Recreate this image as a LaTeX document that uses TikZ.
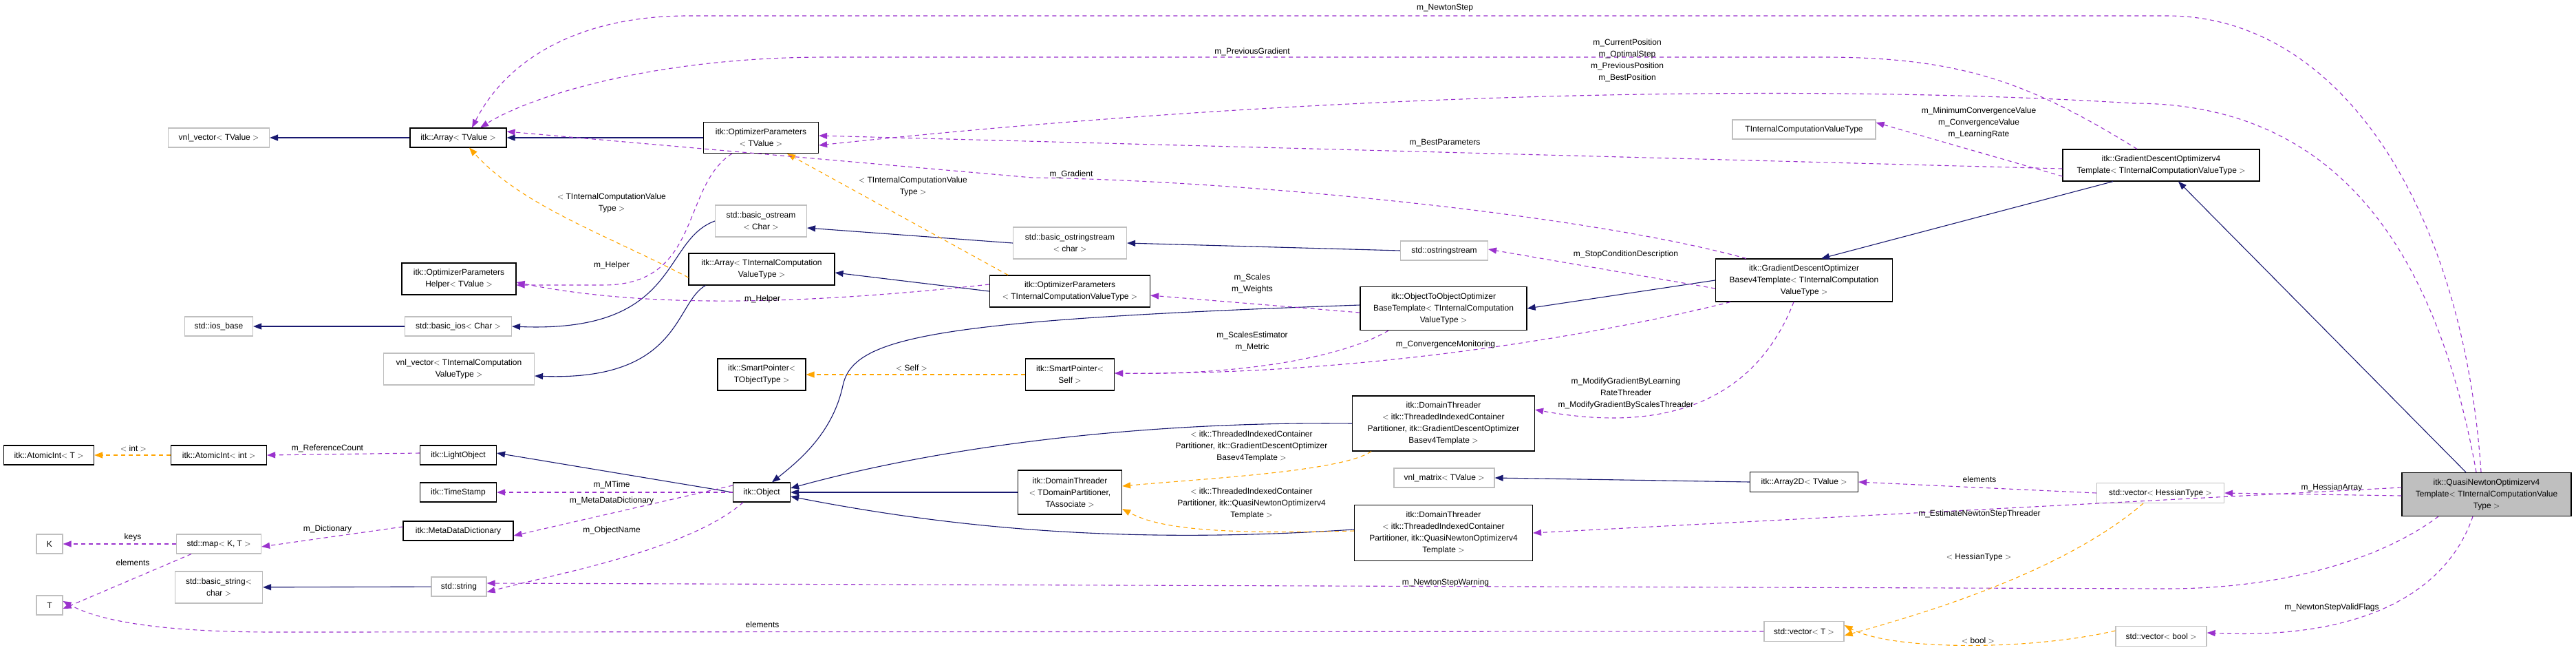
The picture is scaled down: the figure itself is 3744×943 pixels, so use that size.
\documentclass[tikz,border=0pt]{standalone}
\usepackage{fontspec}
\setmainfont{Liberation Sans}
\usetikzlibrary{arrows.meta}
\definecolor{inhcol}{HTML}{191970}
\definecolor{usecol}{HTML}{9A32CD}
\definecolor{tplcol}{HTML}{FFA500}
\definecolor{extcol}{HTML}{BFBFBF}
\tikzset{
  cls/.style={rectangle, draw=black, line width=1.2pt, inner sep=0pt, align=center, font=\fontsize{12}{17}\selectfont},
  ext/.style={cls, draw=extcol},
  inh/.style={draw=inhcol, line width=1.1pt, -{Triangle[length=12pt,width=9pt]}},
  use/.style={draw=usecol, line width=1.1pt, dash pattern=on 6pt off 5pt, -{Triangle[length=12pt,width=9pt]}},
  tpl/.style={draw=tplcol, line width=1.1pt, dash pattern=on 6pt off 5pt, -{Triangle[length=12pt,width=9pt]}},
  lbl/.style={font=\fontsize{12}{17}\selectfont, align=center, inner sep=0pt}
}
\begin{document}
\begin{tikzpicture}[x=1pt, y=-1pt]
\useasboundingbox (0,0) rectangle (3744,943);

% classes on the left
\node[ext, minimum width=147, minimum height=28] (vnlT) at (318,200) {vnl\_vector$<$ TValue $>$};
\node[cls, minimum width=140, minimum height=28] (arrT) at (666,200) {itk::Array$<$ TValue $>$};
\node[cls, minimum width=167, minimum height=45] (optP) at (1106,200) {itk::OptimizerParameters\\$<$ TValue $>$};
\node[ext, minimum width=133, minimum height=46] (bostream) at (1106,321) {std::basic\_ostream\\$<$ Char $>$};
\node[cls, minimum width=212, minimum height=46] (arrTIC) at (1107,391) {itk::Array$<$ TInternalComputation\\ValueType $>$};
\node[cls, minimum width=166, minimum height=46] (helper) at (667,405) {itk::OptimizerParameters\\Helper$<$ TValue $>$};
\node[ext, minimum width=99, minimum height=28] (iosbase) at (318,474) {std::ios\_base};
\node[ext, minimum width=155, minimum height=28] (bios) at (666,474) {std::basic\_ios$<$ Char $>$};
\node[ext, minimum width=219, minimum height=46] (vnlTIC) at (667,536) {vnl\_vector$<$ TInternalComputation\\ValueType $>$};
\node[cls, minimum width=128, minimum height=46] (spTO) at (1107,544) {itk::SmartPointer$<$\\TObjectType $>$};
\node[cls, minimum width=131, minimum height=28] (aiT) at (71,661) {itk::AtomicInt$<$ T $>$};
\node[cls, minimum width=139, minimum height=28] (aiInt) at (318,661) {itk::AtomicInt$<$ int $>$};
\node[cls, minimum width=111, minimum height=28] (light) at (666,661) {itk::LightObject};
\node[cls, minimum width=111, minimum height=28] (tstamp) at (666,715) {itk::TimeStamp};
\node[cls, minimum width=83, minimum height=28] (object) at (1107,715) {itk::Object};
\node[cls, minimum width=160, minimum height=28] (mdd) at (666,771) {itk::MetaDataDictionary};
\node[ext, minimum width=38, minimum height=28] (K) at (72,790) {K};
\node[ext, minimum width=123, minimum height=28] (map) at (318,790) {std::map$<$ K, T $>$};
\node[ext, minimum width=38, minimum height=28] (T) at (72,879) {T};
\node[ext, minimum width=127, minimum height=46] (bstring) at (318,853) {std::basic\_string$<$\\char $>$};
\node[ext, minimum width=80, minimum height=28] (string) at (667,852) {std::string};

% classes in the middle
\node[ext, minimum width=165, minimum height=46] (bostrs) at (1555,353) {std::basic\_ostringstream\\$<$ char $>$};
\node[ext, minimum width=127, minimum height=28] (ostrs) at (2099,364) {std::ostringstream};
\node[cls, minimum width=233, minimum height=46] (optTIC) at (1555,423) {itk::OptimizerParameters\\$<$ TInternalComputationValueType $>$};
\node[cls, minimum width=242, minimum height=63] (o2o) at (2098,448) {itk::ObjectToObjectOptimizer\\BaseTemplate$<$ TInternalComputation\\ValueType $>$};
\node[cls, minimum width=129, minimum height=46] (spSelf) at (1555,544) {itk::SmartPointer$<$\\Self $>$};
\node[cls, minimum width=265, minimum height=80] (dtGD) at (2098,615) {itk::DomainThreader\\$<$ itk::ThreadedIndexedContainer\\Partitioner, itk::GradientDescentOptimizer\\Basev4Template $>$};
\node[cls, minimum width=151, minimum height=64] (dtTDP) at (1555,715) {itk::DomainThreader\\$<$ TDomainPartitioner,\\TAssociate $>$};
\node[ext, minimum width=146, minimum height=28] (vnlM) at (2099,694) {vnl\_matrix$<$ TValue $>$};
\node[cls, minimum width=259, minimum height=81] (dtQN) at (2098,774) {itk::DomainThreader\\$<$ itk::ThreadedIndexedContainer\\Partitioner, itk::QuasiNewtonOptimizerv4\\Template $>$};

% classes on the right
\node[cls, minimum width=257, minimum height=62] (gdb) at (2622,407) {itk::GradientDescentOptimizer\\Basev4Template$<$ TInternalComputation\\ValueType $>$};
\node[ext, minimum width=208, minimum height=28] (ticvt) at (2622,188) {TInternalComputationValueType};
\node[cls, minimum width=286, minimum height=46] (gdv4) at (3141,240) {itk::GradientDescentOptimizerv4\\Template$<$ TInternalComputationValueType $>$};
\node[cls, minimum width=157, minimum height=29] (arr2d) at (2622,700) {itk::Array2D$<$ TValue $>$};
\node[ext, minimum width=185, minimum height=29] (vH) at (3140,716) {std::vector$<$ HessianType $>$};
\node[cls, fill=extcol, minimum width=246, minimum height=63] (qn) at (3614,718) {itk::QuasiNewtonOptimizerv4\\Template$<$ TInternalComputationValue\\Type $>$};
\node[ext, minimum width=116, minimum height=29] (vT) at (2622,917) {std::vector$<$ T $>$};
\node[ext, minimum width=132, minimum height=29] (vBool) at (3141,924) {std::vector$<$ bool $>$};

% inheritance
\draw[inh] (arrT) -- (vnlT);
\draw[inh] (optP) -- (arrT);
\draw[inh] (bostream.west) .. controls (960,350) and (990,484) .. (bios.east);
\draw[inh] (bios) -- (iosbase);
\draw[inh] ([xshift=25]arrTIC.south west) .. controls (980,440) and (990,554) .. ([yshift=-10]vnlTIC.east);
\draw[inh] (bostrs.west) -- ([yshift=-10]bostream.east);
\draw[inh] (optTIC.west) -- ([yshift=-5]arrTIC.east);
\draw[inh] (ostrs.west) -- (bostrs.east);
\draw[inh] (gdb.west) -- (o2o.east);
\draw[inh] ([yshift=5]o2o.west) .. controls (1350,465) and (1240,490) .. (1225,560) .. controls (1210,630) and (1160,670) .. ([xshift=15]object.north);
\draw[inh] (dtGD.west) .. controls (1700,612) and (1400,640) .. ([yshift=6]object.east);
\draw[inh] (dtTDP.west) -- (object.east);
\draw[inh] ([yshift=5]dtQN.west) .. controls (1650,790) and (1400,770) .. ([yshift=-6]object.east);
\draw[inh] (object.west) -- ([yshift=3]light.east);
\draw[inh] (string) -- (bstring);
\draw[inh] ([xshift=-70]gdv4.south) -- ([xshift=25]gdb.north);
\draw[inh] ([xshift=-30]qn.north) -- ([xshift=25]gdv4.south);
\draw[inh] (arr2d.west) -- (vnlM.east);

% template instances
\draw[tpl] ([yshift=-12]arrTIC.west) .. controls (880,340) and (760,300) .. ([xshift=16]arrT.south);
\node[lbl] (lArrTIC) at (889,295) {$<$ TInternalComputationValue\\Type $>$};
\draw[tpl] ([xshift=-90]optTIC.north) -- ([xshift=38]optP.south);
\node[lbl] (lOptTIC) at (1327,271) {$<$ TInternalComputationValue\\Type $>$};
\draw[tpl] (spSelf) -- (spTO);
\node[lbl] (lSelf) at (1325,534) {$<$ Self $>$};
\draw[tpl] (aiInt) -- (aiT);
\node[lbl] (lInt) at (194,651) {$<$ int $>$};
\draw[tpl] ([xshift=-105]dtGD.south) .. controls (1950,685) and (1750,695) .. ([yshift=9]dtTDP.east);
\node[lbl] (lDtGD) at (1819,648) {$<$ itk::ThreadedIndexedContainer\\Partitioner, itk::GradientDescentOptimizer\\Basev4Template $>$};
\draw[tpl] ([yshift=3]dtQN.west) .. controls (1750,777) and (1680,765) .. ([yshift=-24]dtTDP.east);
\node[lbl] (lDtQN) at (1819,731) {$<$ itk::ThreadedIndexedContainer\\Partitioner, itk::QuasiNewtonOptimizerv4\\Template $>$};
\draw[tpl] ([xshift=-25]vH.south) .. controls (3000,830) and (2800,890) .. ([yshift=-6]vT.east);
\node[lbl] (lHess) at (2876,809) {$<$ HessianType $>$};
\draw[tpl] ([yshift=8]vBool.west) .. controls (2950,945) and (2750,945) .. ([yshift=9]vT.east);
\node[lbl] (lBool) at (2875,930) {$<$ bool $>$};

% members
\draw[use] ([xshift=-8]qn.north) .. controls (3580,300) and (3400,23) .. (3150,23) -- (1000,23) .. controls (850,23) and (740,80) .. ([xshift=20]arrT.north);
\node[lbl] (lNewton) at (2100,12) {m\_NewtonStep};
\draw[use] ([xshift=-35]gdv4.north) .. controls (2950,120) and (2850,83) .. (2650,83) -- (1200,83) .. controls (950,83) and (770,140) .. ([xshift=32]arrT.north);
\node[lbl] (lPrevGrad) at (1820,75) {m\_PreviousGradient};
\draw[use] ([xshift=-15]qn.north) .. controls (3530,300) and (3350,150) .. (3100,150) .. controls (2700,125) and (2000,125) .. ([yshift=-11]optP.east);
\node[lbl] (lPos) at (2365,88) {m\_CurrentPosition\\m\_OptimalStep\\m\_PreviousPosition\\m\_BestPosition};
\draw[use] ([yshift=-5]gdv4.west) -- ([yshift=3]optP.east);
\node[lbl] (lBestPar) at (2100,208) {m\_BestParameters};
\draw[use] ([yshift=-16]gdv4.west) -- ([yshift=10]ticvt.east);
\node[lbl] (lConv) at (2876,178) {m\_MinimumConvergenceValue\\m\_ConvergenceValue\\m\_LearningRate};
\draw[use] ([xshift=45]gdb.north west) .. controls (2300,310) and (1800,262) .. (1500,258) -- ([yshift=9]arrT.east);
\node[lbl] (lGrad) at (1557,253) {m\_Gradient};
\draw[use] ([yshift=-12]gdb.west) -- ([yshift=2]ostrs.east);
\node[lbl] (lStop) at (2363,369) {m\_StopConditionDescription};
\draw[use] ([xshift=22]gdb.south west) .. controls (2350,480) and (2000,545) .. ([yshift=2]spSelf.east);
\node[lbl] (lMon) at (2101,500) {m\_ConvergenceMonitoring};
\draw[use] ([xshift=-80]o2o.south) .. controls (1950,520) and (1800,545) .. ([yshift=2]spSelf.east);
\node[lbl] (lEst) at (1820,496) {m\_ScalesEstimator\\m\_Metric};
\draw[use] ([yshift=-6]o2o.west) -- ([yshift=-6]optTIC.east);
\node[lbl] (lScales) at (1820,412) {m\_Scales\\m\_Weights};
\draw[use] ([yshift=10]optTIC.west) .. controls (1100,450) and (900,440) .. ([yshift=-5]helper.east);
\node[lbl] (lHelp1) at (1108,434) {m\_Helper};
\draw[use] ([xshift=42]optP.south west) .. controls (990,270) and (1020,412) .. (880,414) -- ([yshift=-9]helper.east);
\node[lbl] (lHelp2) at (889,385) {m\_Helper};
\draw[use] ([xshift=-15]gdb.south) .. controls (2560,560) and (2450,635) .. ([yshift=20]dtGD.east);
\node[lbl] (lModify) at (2363,571) {m\_ModifyGradientByLearning\\RateThreader\\m\_ModifyGradientByScalesThreader};
\draw[use] (object.west) -- (tstamp.east);
\node[lbl] (lMTime) at (889,704) {m\_MTime};
\draw[use] ([yshift=10]object.west) -- ([yshift=-7]mdd.east);
\node[lbl] (lMdd) at (889,727) {m\_MetaDataDictionary};
\draw[use] ([xshift=-27]object.south) .. controls (1000,800) and (800,835) .. ([yshift=-8]string.east);
\node[lbl] (lName) at (889,770) {m\_ObjectName};
\draw[use] ([yshift=3]light.west) -- (aiInt.east);
\node[lbl] (lRef) at (476,651) {m\_ReferenceCount};
\draw[use] ([yshift=6]mdd.west) -- ([yshift=-4]map.east);
\node[lbl] (lDict) at (476,768) {m\_Dictionary};
\draw[use] (map) -- (K);
\node[lbl] (lKeys) at (193,780) {keys};
\draw[use] ([xshift=-40]map.south) -- ([yshift=-5]T.east);
\node[lbl] (lElemMap) at (193,817) {elements};
\draw[use] (vT.west) -- (400,918) .. controls (250,918) and (150,905) .. ([yshift=6]T.east);
\node[lbl] (lElemT) at (1108,907) {elements};
\draw[use] ([xshift=-70]qn.south) .. controls (3450,820) and (3300,855) .. (3150,855) -- ([yshift=5]string.east);
\node[lbl] (lWarn) at (2101,846) {m\_NewtonStepWarning};
\draw[use] ([yshift=-2]qn.west) -- (vH.east);
\node[lbl] (lHessArr) at (3389,708) {m\_HessianArray};
\draw[use] (vH.west) -- (arr2d.east);
\node[lbl] (lElemH) at (2877,696) {elements};
\draw[use] ([yshift=10]qn.west) -- (dtQN.east);
\node[lbl] (lEstThr) at (2877,746) {m\_EstimateNewtonStepThreader};
\draw[use] ([xshift=-20]qn.south) .. controls (3560,850) and (3450,930) .. ([yshift=5]vBool.east);
\node[lbl] (lValid) at (3389,882) {m\_NewtonStepValidFlags};
\end{tikzpicture}
\end{document}
